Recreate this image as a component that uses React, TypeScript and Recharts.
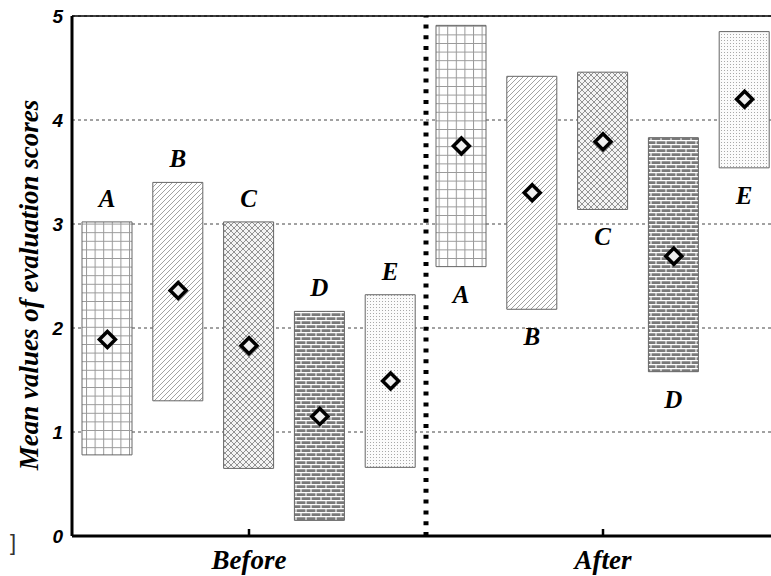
import React from "react";
import {
  ComposedChart,
  Bar,
  Line,
  XAxis,
  YAxis,
  CartesianGrid,
  ReferenceLine,
  LabelList,
  Cell,
} from "recharts";

// evaluation groups, before and after
const keys = ["bA", "bB", "bC", "bD", "bE", "aA", "aB", "aC", "aD", "aE"];
const groups = ["A", "B", "C", "D", "E", "A", "B", "C", "D", "E"];
const phases = ["before", "before", "before", "before", "before", "after", "after", "after", "after", "after"];
const lows = [0.78, 1.3, 0.65, 0.15, 0.66, 2.59, 2.18, 3.14, 1.58, 3.54];
const highs = [3.02, 3.4, 3.02, 2.16, 2.32, 4.91, 4.42, 4.46, 3.83, 4.85];
const means = [1.89, 2.36, 1.83, 1.15, 1.49, 3.75, 3.3, 3.79, 2.69, 4.2];
const phaseTicks: Record<string, string> = { bC: "Before", aC: "After" };
const yTicks = [0, 1, 2, 3, 4, 5];
const dividerKey = "aA";

const data = keys.map((k, i) => ({
  key: k,
  group: groups[i],
  phase: phases[i],
  range: [lows[i], highs[i]],
  mean: means[i],
}));

const SERIF = "'Liberation Serif', 'Times New Roman', serif";
const SANS = "'Liberation Sans', Arial, sans-serif";

const Patterns = () => (
  <defs>
    <pattern id="pA" width="8.6" height="8.6" patternUnits="userSpaceOnUse">
      <rect width="8.6" height="8.6" fill="#fff" />
      <path d="M0 0.5 H8.6 M0.5 0 V8.6" stroke="#999" strokeWidth="1" />
    </pattern>
    <pattern id="pB" width="5" height="5" patternUnits="userSpaceOnUse">
      <rect width="5" height="5" fill="#fff" />
      <path d="M-1 6 L6 -1 M-1 1 L1 -1 M4 6 L6 4" stroke="#8a8a8a" strokeWidth="0.8" />
    </pattern>
    <pattern id="pC" width="6" height="6" patternUnits="userSpaceOnUse">
      <rect width="6" height="6" fill="#f4f4f4" />
      <path d="M0 0 L6 6 M6 0 L0 6" stroke="#888" strokeWidth="0.9" />
    </pattern>
    <pattern id="pD" width="10" height="8" patternUnits="userSpaceOnUse">
      <rect width="10" height="8" fill="#7a7a7a" />
      <path d="M0 0.6 H10 M0 4.6 H10" stroke="#fff" strokeWidth="1.1" />
      <path d="M1 0.6 V4.6 M6 4.6 V8.6" stroke="#fff" strokeWidth="1.1" />
    </pattern>
    <pattern id="pE" width="3" height="3" patternUnits="userSpaceOnUse">
      <rect width="3" height="3" fill="#fbfbfb" />
      <rect x="1" y="1" width="1" height="1" fill="#a8a8a8" />
    </pattern>
  </defs>
);

const Diamond = (props: any) => {
  const { cx, cy, index } = props;
  if (cx == null || cy == null) return <g key={index} />;
  const r = 8;
  return (
    <polygon
      key={index}
      points={`${cx},${cy - r} ${cx + r},${cy} ${cx},${cy + r} ${cx - r},${cy}`}
      fill="#eeeeee"
      stroke="#000"
      strokeWidth={3.5}
      strokeLinejoin="miter"
    />
  );
};

const GroupLabel = (props: any) => {
  const { x, y, width, height, value, index } = props;
  const top = Math.min(y, y + height);
  const bottom = Math.max(y, y + height);
  const above = phases[index] === "before";
  const ty = above ? top - 15 : bottom + 36;
  return (
    <text
      x={x + width / 2}
      y={ty}
      textAnchor="middle"
      fontFamily={SERIF}
      fontStyle="italic"
      fontWeight="bold"
      fontSize={25}
      fill="#000"
    >
      {value}
    </text>
  );
};

const PhaseTick = (props: any) => {
  const { x, y, payload } = props;
  const label = phaseTicks[payload.value];
  if (!label) return <g />;
  return (
    <g>
      <line x1={x} y1={y - 1} x2={x} y2={y - 7} stroke="#000" strokeWidth={2.5} />
      <text
        x={x}
        y={y + 33}
        textAnchor="middle"
        fontFamily={SERIF}
        fontStyle="italic"
        fontWeight="bold"
        fontSize={27}
        fill="#000"
      >
        {label}
      </text>
    </g>
  );
};

const YTitle = (props: any) => {
  const vb = props.viewBox || { x: 0, y: 0, width: 72, height: 520 };
  const cx = 29;
  const cy = vb.y + vb.height / 2 + 9;
  return (
    <text
      x={cx}
      y={cy}
      transform={`rotate(-90 ${cx} ${cy})`}
      textAnchor="middle"
      dominantBaseline="central"
      fontFamily={SERIF}
      fontStyle="italic"
      fontWeight="bold"
      fontSize={27}
      fill="#000"
    >
      Mean values of evaluation scores
    </text>
  );
};

export default function App() {
  return (
    <div
      style={{
        position: "fixed",
        left: 0,
        top: 0,
        width: 771,
        height: 576,
        overflow: "hidden",
        background: "#fff",
      }}
    >
      <ComposedChart
        width={790}
        height={576}
        data={data}
        margin={{ top: 16, right: 10, bottom: 0, left: 0 }}
        barCategoryGap={0}
      >
        <Patterns />
        <CartesianGrid vertical={false} stroke="#444" strokeDasharray="3 3" strokeWidth={1} />
        <XAxis
          dataKey="key"
          type="category"
          interval={0}
          height={40}
          tickSize={0}
          tickMargin={0}
          tickLine={false}
          tick={<PhaseTick />}
          axisLine={{ stroke: "#000", strokeWidth: 3 }}
        />
        <YAxis
          domain={[0, 5]}
          ticks={yTicks}
          width={72}
          tickSize={0}
          tickMargin={9}
          tickLine={false}
          axisLine={{ stroke: "#000", strokeWidth: 3 }}
          tick={{ fontFamily: SANS, fontStyle: "italic", fontWeight: "bold", fontSize: 19, fill: "#000" }}
          label={<YTitle />}
        />
        <ReferenceLine y={5} stroke="#000" strokeWidth={1.5} />
        <ReferenceLine
          x={dividerKey}
          position="start"
          stroke="#000"
          strokeWidth={5}
          strokeDasharray="4 6.8"
        />
        <Bar dataKey="range" barSize={50} stroke="#666" strokeWidth={1} isAnimationActive={false}>
          {data.map((d, i) => (
            <Cell key={i} fill={`url(#p${d.group})`} />
          ))}
          <LabelList dataKey="group" content={<GroupLabel />} />
        </Bar>
        <Line
          dataKey="mean"
          stroke="none"
          dot={<Diamond />}
          activeDot={false}
          isAnimationActive={false}
        />
      </ComposedChart>
      <span
        style={{
          position: "absolute",
          left: 10,
          top: 530,
          fontFamily: SANS,
          fontSize: 22,
          fontWeight: 300,
          color: "#333",
        }}
      >
        ]
      </span>
    </div>
  );
}
